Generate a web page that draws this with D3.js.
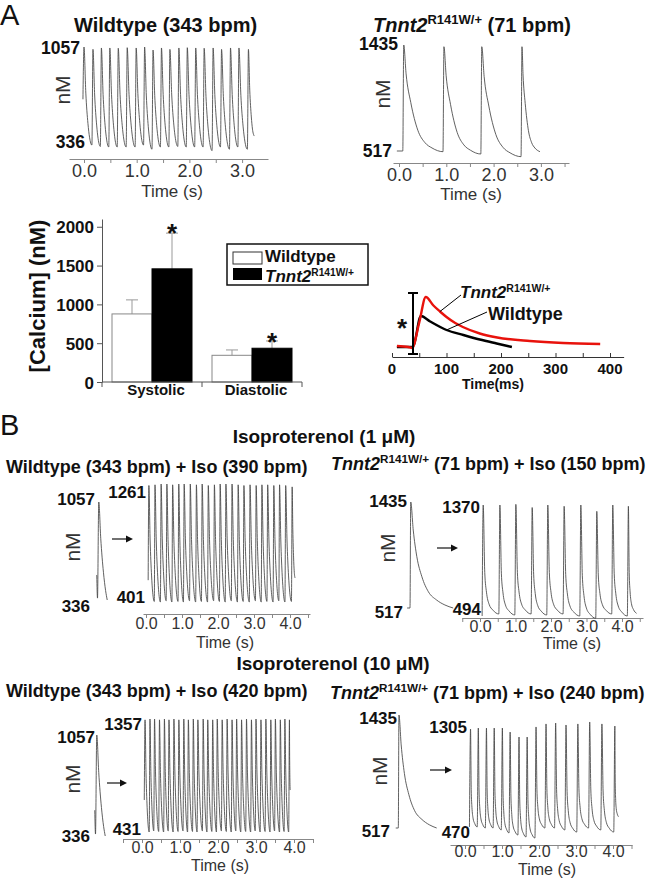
<!DOCTYPE html>
<html><head><meta charset="utf-8">
<script src="https://cdn.jsdelivr.net/npm/d3@7"></script>
<style>
body{margin:0;background:#fff}
svg{display:block}
text{font-family:'Liberation Sans',Arial,Helvetica,sans-serif;white-space:pre}
</style>
</head><body><script>
// ================= DATA =================
// Panel A – spontaneous transients (nM); peak times (s)
const wtA_peakT   = [0.00,0.17,0.33,0.49,0.65,0.82,0.99,1.15,1.31,1.47,1.63,1.80,1.96,2.12,2.28,2.45,2.61,2.78,2.94,3.12];
const wtA_peakV   = [1057,1040,1050,1050,1048,1052,1050,1057,1035,1050,1040,1050,1052,1050,1048,1050,1040,1050,1050,1040];
const wtA_troughV = [680,350,340,336,336,336,336,350,320,336,336,340,336,336,336,310,336,320,336,320];
const wtA_end     = [3.23,415];

const tnA_peakT   = [0.10,0.95,1.75,2.60];
const tnA_peakV   = [1435,1420,1420,1420];
const tnA_troughV = [517,511,491,468];
const tnA_start   = [-0.045,517];
const tnA_end     = [2.98,511];

// decay shapes: [fraction of beat interval, fraction of amplitude]
const wtDecay    = [[0.23,0.53],[0.5,0.22],[0.7,0.08]];
const tnDecayA   = [[0.06,0.73],[0.18,0.46],[0.36,0.2],[0.54,0.085],[0.72,0.035]];
const tnDecayIso = [[0.1,0.38],[0.21,0.2],[0.375,0.09],[0.625,0.035]];

// Bar chart
const barGroups = ["Systolic","Diastolic"];
const barSeries = ["Wildtype","Tnnt2"];
const wtMeans = [877,344];
const wtSD    = [181,69];
const tnMeans = [1458,435];
const tnSD    = [460,94];
const barTicks = [0,500,1000,1500,2000];

// Inset average transient (time ms, F/F0)
const insetTn_t = [9,30,37,50,62,76,88,100,116,130,161,193,253,314,382];
const insetTn_v = [1.02,1.0,0.98,1.49,2.0,1.83,1.71,1.6,1.48,1.4,1.27,1.19,1.12,1.08,1.06];
const insetWt_t = [9,37,40,53,70,100,131,161,192,220];
const insetWt_v = [1.0,1.0,1.04,1.62,1.51,1.34,1.24,1.15,1.07,1.0];
const insetSigT = 38.5;
const insetSig  = [0.86,2.08];
const insetTicks = [0,100,200,300,400];

// Panel B – baseline single transients
const wtBase_t = [-0.02,0,0.035,0.09,0.165,0.225,0.27];
const wtBase_v = [520,350,1057,790,540,405,336];
const tnBase_t = [-0.08,0,0.02,0.09,0.19,0.33,0.51,0.74,0.97,1.2];
const tnBase_v = [517,517,1435,1192,961,788,658,586,543,517];

// Iso 1 µM
const wtB1_peakT   = [0.08,0.25,0.42,0.58,0.74,0.91,1.06,1.23,1.40,1.56,1.73,1.90,2.06,2.22,2.39,2.56,2.72,2.89,3.06,3.22,3.38,3.55,3.71,3.88,4.06];
const wtB1_peakV   = [1250,1255,1261,1261,1255,1261,1261,1261,1255,1261,1250,1255,1261,1261,1261,1255,1250,1255,1250,1255,1255,1250,1255,1250,1240];
const wtB1_troughV = [560,405,401,410,401,405,401,410,401,405,401,410,405,401,410,401,405,401,410,401,405,401,410,401,405];
const wtB1_end     = [4.14,576];

const tnB1_peakT   = [0.09,0.56,1.01,1.47,1.91,2.37,2.84,3.29,3.74,4.18];
const tnB1_peakV   = [1370,1370,1375,1350,1370,1360,1370,1320,1370,1360];
const tnB1_troughV = [494,510,502,510,502,510,494,476,510,494];
const tnB1_end     = [4.41,515];

// Iso 10 µM
const wtB2_peakT   = [0.08,0.21,0.33,0.46,0.59,0.71,0.84,0.97,1.10,1.22,1.35,1.47,1.61,1.73,1.86,1.98,2.11,2.24,2.37,2.49,2.62,2.75,2.88,3.00,3.13,3.26,3.39,3.51,3.64,3.76,3.88];
const wtB2_peakV   = [1350,1357,1357,1350,1357,1350,1357,1350,1357,1350,1357,1350,1357,1350,1350,1357,1350,1357,1350,1357,1350,1357,1350,1357,1350,1357,1350,1357,1350,1357,1350];
const wtB2_troughV = [693,431,440,435,431,440,431,435,440,431,435,431,440,431,435,431,440,435,431,440,431,435,431,440,431,435,431,440,431,435,431];
const wtB2_end     = [3.90,775];

const tnB2_peakT   = [0.15,0.36,0.58,0.79,1.01,1.22,1.46,1.68,1.92,2.19,2.45,2.73,3.05,3.37,3.70,4.05];
const tnB2_peakV   = [1297,1305,1305,1305,1305,1274,1236,1236,1313,1336,1343,1328,1336,1351,1336,1320];
const tnB2_troughV = [547,547,539,539,524,501,485,470,462,539,539,524,508,539,524,508];
const tnB2_end     = [4.15,625];

const timeTicksA = [0,1,2,3];
const timeTicksB = [0,1,2,3,4];

// ================= DRAWING =================
const svg = d3.select("body").append("svg").attr("width",660).attr("height",879);
const INK = "#111", TRACE = "#444", AXIS = "#888";

function txt(x,y,s,o={}){
  const t = svg.append("text").attr("x",x).attr("y",y).text(s)
    .attr("font-size",o.size||17).attr("font-weight",o.weight||"bold")
    .attr("text-anchor",o.anchor||"start").attr("fill",o.fill||INK);
  if(o.rot) t.attr("transform",`rotate(-90,${x},${y})`);
  if(o.italic) t.attr("font-style","italic");
  return t;
}
function tnnt(x,y,size,suffix,supScale){
  const t = svg.append("text").attr("x",x).attr("y",y).attr("font-size",size)
    .attr("font-weight","bold").attr("fill",INK);
  t.append("tspan").attr("font-style","italic").text("Tnnt2");
  t.append("tspan").attr("font-size",size*(supScale||0.65)).attr("dy",-size*0.38).text("R141W/+");
  if(suffix) t.append("tspan").attr("dy",size*0.38).text(suffix);
  return t;
}
function buildTrace(peakT,peakV,troughV,end,rise,tpl,start){
  const pts=[]; if(start) pts.push(start);
  peakT.forEach((t,i)=>{
    pts.push([t-rise,troughV[i]]); pts.push([t,peakV[i]]);
    const last=i===peakT.length-1;
    const nT=last?end[0]:peakT[i+1]-rise, nV=last?end[1]:troughV[i+1];
    tpl.forEach(([f,a])=>pts.push([t+f*(nT-t), nV+a*(peakV[i]-nV)]));
  });
  pts.push(end); return pts;
}
function drawLine(pts,xs,ys,color,w){
  svg.append("path").datum(pts).attr("fill","none").attr("stroke",color).attr("stroke-width",w)
    .attr("stroke-linejoin","round")
    .attr("d",d3.line().x(d=>xs(d[0])).y(d=>ys(d[1])).curve(d3.curveMonotoneX));
}
function timeAxis(c,majors){
  const xs=d3.scaleLinear().domain([(c.from-c.x0)/c.pps,(c.to-c.x0)/c.pps]).range([c.from,c.to]);
  const d=xs.domain();
  const minor=d3.range(Math.ceil(d[0]*2)/2, d[1]+1e-6, 0.5);
  const g=svg.append("g").attr("transform",`translate(0,${c.y})`)
    .call(d3.axisBottom(xs).tickValues(minor).tickSize(4).tickSizeOuter(0)
      .tickFormat(v=>majors.includes(Math.round(v*10)/10)?v.toFixed(1):""));
  g.select(".domain").attr("stroke",AXIS);
  g.selectAll(".tick line").attr("stroke",AXIS);
  g.selectAll(".tick text").attr("y",c.lab).attr("dy",0).attr("font-size",c.size)
    .attr("font-family","'Liberation Sans',Arial,sans-serif").attr("fill","#333");
  txt(c.tx,c.ty,"Time (s)",{size:c.tsize||c.size,weight:"normal",anchor:"middle",fill:"#333"});
  return xs;
}
function nM(x,y,size){ txt(x,y,"nM",{size:size||21,weight:"normal",anchor:"middle",rot:true,fill:"#333"}); }
function arrow(x1,x2,y){
  svg.append("line").attr("x1",x1).attr("x2",x2-5).attr("y1",y).attr("y2",y).attr("stroke",INK).attr("stroke-width",1.2);
  svg.append("path").attr("d",`M${x2},${y}L${x2-7},${y-3.5}L${x2-7},${y+3.5}Z`).attr("fill",INK);
}

// ---------- Panel letters ----------
txt(0,25,"A",{size:29,weight:"normal"});
txt(0,435,"B",{size:29,weight:"normal"});

// ---------- A1 Wildtype ----------
txt(74,32,"Wildtype (343 bpm)",{size:20});
{
  const xs=timeAxis({x0:84,pps:52.7,from:69,to:268,y:159,lab:18,size:18,tsize:17,tx:172,ty:197},timeTicksA);
  const ys=d3.scaleLinear().domain([336,1057]).range([147,47]);
  drawLine(buildTrace(wtA_peakT,wtA_peakV,wtA_troughV,wtA_end,0.02,wtDecay),xs,ys,TRACE,0.85);
  txt(80,54,"1057",{size:17.5,anchor:"end"});
  txt(85,148,"336",{size:17.5,anchor:"end"});
  nM(70,90);
}
// ---------- A2 Tnnt2 ----------
tnnt(373,32,20," (71 bpm)");
{
  const xs=timeAxis({x0:399,pps:47.3,from:393,to:569,y:163,lab:18,size:18,tsize:17,tx:471,ty:200},timeTicksA);
  const ys=d3.scaleLinear().domain([517,1435]).range([151,45]);
  drawLine(buildTrace(tnA_peakT,tnA_peakV,tnA_troughV,tnA_end,0.02,tnDecayA,tnA_start),xs,ys,TRACE,0.85);
  txt(398,50,"1435",{size:17.5,anchor:"end"});
  txt(392,157,"517",{size:17.5,anchor:"end"});
  nM(390,94);
}

// ---------- Bar chart ----------
{
  const y=d3.scaleLinear().domain([0,2100]).range([382,219]);
  const x0=d3.scaleBand().domain(barGroups).range([102,302]).paddingInner(0.2).paddingOuter(0.1);
  const x1=d3.scaleBand().domain(barSeries).range([0,x0.bandwidth()]);
  const means={Wildtype:wtMeans,Tnnt2:tnMeans}, sds={Wildtype:wtSD,Tnnt2:tnSD};
  barGroups.forEach((grp,gi)=>{
    barSeries.forEach(s=>{
      const bx=x0(grp)+x1(s), m=means[s][gi], sd=sds[s][gi], cx=bx+x1.bandwidth()/2;
      svg.append("line").attr("x1",cx).attr("x2",cx).attr("y1",y(m)).attr("y2",y(m+sd)).attr("stroke","#999").attr("stroke-width",1);
      svg.append("line").attr("x1",cx-6).attr("x2",cx+6).attr("y1",y(m+sd)).attr("y2",y(m+sd)).attr("stroke","#999").attr("stroke-width",1);
      svg.append("rect").attr("x",bx).attr("y",y(m)).attr("width",x1.bandwidth()).attr("height",y(0)-y(m))
        .attr("fill",s==="Wildtype"?"#fff":"#000").attr("stroke",s==="Wildtype"?"#888":"#000").attr("stroke-width",1);
      if(s==="Tnnt2") txt(cx,y(m+sd)+(gi===0?9:10),"*",{size:26,anchor:"middle"});
    });
  });
  const ga=svg.append("g").attr("transform","translate(102,0)")
    .call(d3.axisLeft(y).tickValues(barTicks).tickSize(5).tickSizeOuter(0).tickFormat(d3.format("d")));
  ga.select(".domain").attr("stroke","#555");
  ga.selectAll(".tick line").attr("stroke","#555");
  ga.selectAll(".tick text").attr("font-size",17).attr("font-weight","bold").attr("fill",INK)
    .attr("font-family","'Liberation Sans',Arial,sans-serif").attr("x",-8).attr("dy","0.36em");
  // x axis
  const bnd=[102, x0(barGroups[1])-x0.step()*x0.paddingInner()/2, 302];
  svg.append("line").attr("x1",102).attr("x2",302).attr("y1",382).attr("y2",382).attr("stroke","#555");
  bnd.forEach(b=>svg.append("line").attr("x1",b).attr("x2",b).attr("y1",382).attr("y2",387).attr("stroke","#555"));
  barGroups.forEach(g=>txt(x0(g)+x0.bandwidth()/2+4,395,g,{size:15,anchor:"middle"}));
  txt(45,296,"[Calcium] (nM)",{size:22,anchor:"middle",rot:true});
  // legend
  svg.append("rect").attr("x",227).attr("y",244).attr("width",141).attr("height",41).attr("fill","#fff").attr("stroke",INK).attr("stroke-width",1.5);
  svg.append("rect").attr("x",233).attr("y",252).attr("width",29).attr("height",12).attr("fill","#fff").attr("stroke","#333");
  svg.append("rect").attr("x",233).attr("y",268).attr("width",29).attr("height",12).attr("fill","#000");
  txt(265,262,"Wildtype",{size:17});
  tnnt(265,282,17,null,0.6);
}

// ---------- Inset ----------
{
  const xs=d3.scaleLinear().domain([0,425]).range([392,392+425*0.545]);
  const ys=d3.scaleLinear().domain([1,2]).range([347,297]);
  const g=svg.append("g").attr("transform","translate(0,357)")
    .call(d3.axisTop(xs).tickValues(d3.range(0,425,50)).tickSize(4).tickSizeOuter(0).tickFormat(""));
  g.select(".domain").attr("stroke","#333"); g.selectAll(".tick line").attr("stroke","#333");
  insetTicks.forEach(v=>txt(xs(v),374,String(v),{size:15,anchor:"middle"}));
  txt(493,389,"Time(ms)",{size:14,anchor:"middle"});
  drawLine(insetWt_t.map((t,i)=>[t,insetWt_v[i]]),xs,ys,"#000",2.4);
  drawLine(insetTn_t.map((t,i)=>[t,insetTn_v[i]]),xs,ys,"#e8120c",2.4);
  const ex=xs(insetSigT);
  svg.append("line").attr("x1",ex).attr("x2",ex).attr("y1",ys(insetSig[0])).attr("y2",ys(insetSig[1])).attr("stroke","#000").attr("stroke-width",2);
  insetSig.forEach(v=>svg.append("line").attr("x1",ex-5).attr("x2",ex+5).attr("y1",ys(v)).attr("y2",ys(v)).attr("stroke","#000").attr("stroke-width",2));
  txt(ex-11,337,"*",{size:26,anchor:"middle"});
  tnnt(460,298,17,null,0.62);
  txt(488,320,"Wildtype",{size:18});
  svg.append("line").attr("x1",461).attr("y1",295).attr("x2",xs(88)).attr("y2",ys(1.71)).attr("stroke","#000").attr("stroke-width",1);
  svg.append("line").attr("x1",487).attr("y1",312).attr("x2",xs(100)).attr("y2",ys(1.34)).attr("stroke","#000").attr("stroke-width",1);
}

// ---------- Panel B ----------
txt(324,443,"Isoproterenol (1 \u03bcM)",{size:19,anchor:"middle"});
txt(333,670,"Isoproterenol (10 \u03bcM)",{size:19,anchor:"middle"});
const wtBase = wtBase_t.map((t,i)=>[t,wtBase_v[i]]);
const tnBase = tnBase_t.map((t,i)=>[t,tnBase_v[i]]);
function single(pts,x0,pps,domain,range){
  const xs=d3.scaleLinear().domain([0,1]).range([x0,x0+pps]);
  const ys=d3.scaleLinear().domain(domain).range(range);
  drawLine(pts,xs,ys,TRACE,0.85);
}
function mainY(domain,range){ return d3.scaleLinear().domain(domain).range(range); }

// B1 WT
txt(6,473,"Wildtype (343 bpm) + Iso (390 bpm)",{size:18});
single(wtBase,97.5,36,[336,1057],[600,502]);
{
  const xs=timeAxis({x0:146,pps:36,from:143,to:310,y:614,lab:15,size:16,tx:225,ty:648},timeTicksB);
  drawLine(buildTrace(wtB1_peakT,wtB1_peakV,wtB1_troughV,wtB1_end,0.02,wtDecay),xs,mainY([401,1261],[602,484]),TRACE,0.85);
}
txt(95,505,"1057",{anchor:"end"}); txt(90,612,"336",{anchor:"end"});
txt(146,498,"1261",{anchor:"end"}); txt(145,603,"401",{anchor:"end"});
nM(80,547); arrow(112,133,539);

// B1 Tnnt2
tnnt(331,470,18," (71 bpm) + Iso (150 bpm)");
single(tnBase,410,36,[517,1435],[608,502]);
{
  const xs=timeAxis({x0:480,pps:35.5,from:462,to:643,y:618,lab:14,size:16,tx:572,ty:649},timeTicksB);
  drawLine(buildTrace(tnB1_peakT,tnB1_peakV,tnB1_troughV,tnB1_end,0.03,tnDecayIso),xs,mainY([494,1370],[616,505]),TRACE,0.85);
}
txt(407,507,"1435",{anchor:"end"}); txt(403,618,"517",{anchor:"end"});
txt(480,513,"1370",{anchor:"end"}); txt(481,615,"494",{anchor:"end"});
nM(395,548); arrow(437,458,548);

// B2 WT
txt(6,697,"Wildtype (343 bpm) + Iso (420 bpm)",{size:18});
single(wtBase,95.5,36,[336,1057],[836,735]);
{
  const xs=timeAxis({x0:142,pps:38,from:123,to:313,y:839,lab:14,size:16,tx:220,ty:871},timeTicksB);
  drawLine(buildTrace(wtB2_peakT,wtB2_peakV,wtB2_troughV,wtB2_end,0.02,wtDecay),xs,mainY([431,1357],[832,719]),TRACE,0.85);
}
txt(95,743,"1057",{anchor:"end"}); txt(90,842,"336",{anchor:"end"});
txt(142,730,"1357",{anchor:"end"}); txt(141,835,"431",{anchor:"end"});
nM(80,779); arrow(107,127,783);

// B2 Tnnt2
tnnt(330,699,18," (71 bpm) + Iso (240 bpm)");
single(tnBase,398.3,32,[517,1435],[828,715]);
{
  const xs=timeAxis({x0:465,pps:37,from:450,to:632,y:845,lab:12,size:16,tx:547,ty:875},timeTicksB);
  drawLine(buildTrace(tnB2_peakT,tnB2_peakV,tnB2_troughV,tnB2_end,0.03,tnDecayIso),xs,mainY([470,1305],[837,728]),TRACE,0.85);
}
txt(397,724,"1435",{anchor:"end"}); txt(390,837,"517",{anchor:"end"});
txt(467,733,"1305",{anchor:"end"}); txt(470,838,"470",{anchor:"end"});
nM(387,771); arrow(430,452,770);
</script></body></html>
